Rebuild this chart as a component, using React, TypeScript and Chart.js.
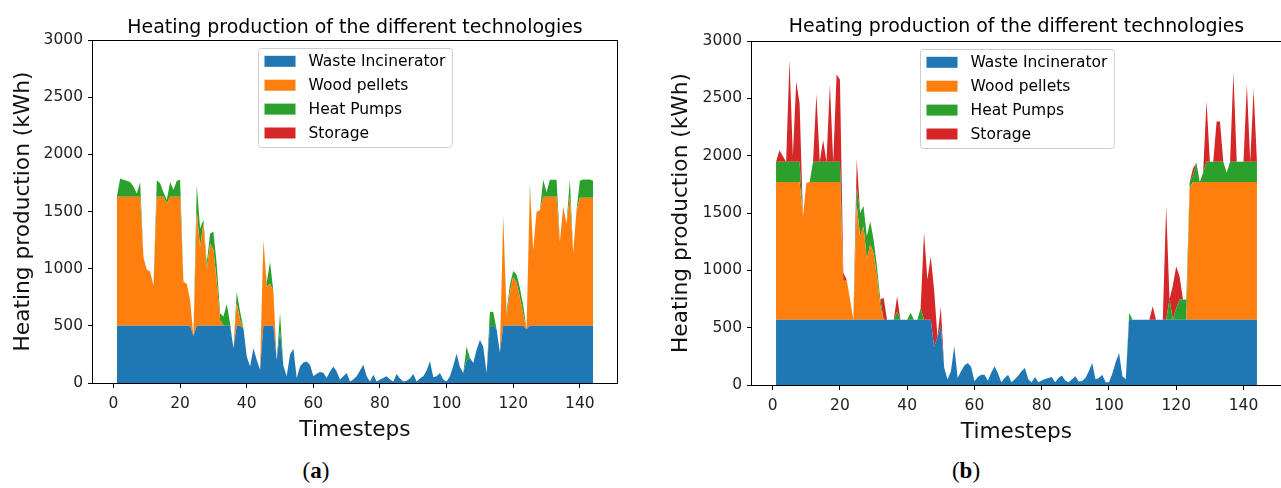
import React, { useEffect, useRef } from "react";
import { Chart, registerables } from "chart.js";

Chart.register(...registerables);

// ---------- data ----------
const timesteps: number[] = Array.from({ length: 144 }, (_, i) => i + 1);
const xTickValues = [0, 20, 40, 60, 80, 100, 120, 140];
const yTickValues = [0, 500, 1000, 1500, 2000, 2500, 3000];
const seriesNames = ["Waste Incinerator", "Wood pellets", "Heat Pumps", "Storage"];
const seriesColors = ["#1f77b4", "#ff7f0e", "#2ca02c", "#d62728"];
const chartTitle = "Heating production of the different technologies";
const xAxisLabel = "Timesteps";
const yAxisLabel = "Heating production (kWh)";

// (a) left chart
const aWaste = [
  500, 500, 500, 500, 500, 500, 500, 500, 500, 500,
  500, 500, 500, 500, 500, 500, 500, 500, 500, 500,
  500, 500, 500, 410, 500, 500, 500, 500, 500, 500,
  500, 500, 500, 500, 500, 305, 500, 500, 480, 232,
  145, 305, 203, 116, 500, 500, 500, 500, 200, 450,
  150, 58, 250, 300, 43, 145, 180, 188, 160, 58,
  80, 96, 90, 43, 100, 145, 100, 29, 60, 87,
  14, 30, 58, 110, 160, 58, 14, 72, 14, 30,
  43, 58, 30, 14, 78, 40, 14, 20, 40, 78,
  14, 40, 58, 110, 190, 50, 60, 87, 30, 14,
  60, 150, 255, 140, 87, 200, 218, 174, 290, 377,
  320, 87, 494, 500, 470, 267, 500, 500, 500, 500,
  500, 500, 500, 470, 500, 500, 500, 500, 500, 500,
  500, 500, 500, 500, 500, 500, 500, 500, 500, 500,
  500, 500, 500, 500,
];
const aWood = [
  1128, 1128, 1128, 1128, 1128, 1128, 1128, 1128, 600, 490,
  475, 350, 1128, 1128, 1128, 1070, 1128, 1128, 1128, 1128,
  387, 366, 227, 0, 1000, 692, 896, 488, 721, 663,
  385, 52, 0, 0, 0, 0, 197, 52, 0, 0,
  0, 0, 0, 0, 750, 340, 370, 300, 0, 0,
  0, 0, 0, 0, 0, 0, 0, 0, 0, 0,
  0, 0, 0, 0, 0, 0, 0, 0, 0, 0,
  0, 0, 0, 0, 0, 0, 0, 0, 0, 0,
  0, 0, 0, 0, 0, 0, 0, 0, 0, 0,
  0, 0, 0, 0, 0, 0, 0, 0, 0, 0,
  0, 0, 0, 0, 0, 0, 0, 0, 0, 0,
  0, 0, 0, 0, 0, 0, 968, 80, 300, 430,
  380, 250, 100, 0, 1200, 663, 997, 1010, 1128, 1128,
  1128, 1128, 1128, 736, 1041, 896, 1128, 634, 1012, 1120,
  1120, 1120, 1120, 1120,
];
const aHeat = [
  0, 160, 150, 140, 130, 90, 30, 130, 0, 0,
  0, 0, 145, 120, 40, 30, 130, 60, 140, 150,
  0, 0, 0, 0, 230, 160, 29, 59, 87, 160,
  150, 58, 81, 192, 23, 0, 100, 73, 0, 0,
  0, 0, 0, 0, 0, 40, 190, 0, 0, 160,
  0, 0, 0, 0, 0, 0, 0, 0, 0, 0,
  0, 0, 0, 0, 0, 0, 0, 0, 0, 0,
  0, 0, 0, 0, 0, 0, 0, 0, 0, 0,
  0, 0, 0, 0, 0, 0, 0, 0, 0, 0,
  0, 0, 0, 0, 0, 0, 0, 0, 0, 0,
  0, 0, 0, 0, 0, 120, 0, 0, 0, 0,
  0, 0, 130, 120, 0, 0, 0, 40, 60, 50,
  70, 80, 80, 0, 40, 0, 0, 0, 150, 40,
  150, 150, 150, 0, 0, 0, 150, 0, 0, 150,
  160, 160, 160, 150,
];
const aStorage = [
  0, 0, 0, 0, 0, 0, 0, 0, 0, 0,
  0, 0, 0, 0, 0, 0, 0, 0, 0, 0,
  0, 0, 0, 0, 0, 0, 0, 0, 0, 0,
  0, 0, 0, 0, 0, 0, 0, 0, 0, 0,
  0, 0, 0, 0, 0, 0, 0, 0, 0, 0,
  0, 0, 0, 0, 0, 0, 0, 0, 0, 0,
  0, 0, 0, 0, 0, 0, 0, 0, 0, 0,
  0, 0, 0, 0, 0, 0, 0, 0, 0, 0,
  0, 0, 0, 0, 0, 0, 0, 0, 0, 0,
  0, 0, 0, 0, 0, 0, 0, 0, 0, 0,
  0, 0, 0, 0, 0, 0, 0, 0, 0, 0,
  0, 0, 0, 0, 0, 0, 0, 0, 0, 0,
  0, 0, 0, 0, 0, 0, 0, 0, 0, 0,
  0, 0, 0, 0, 0, 0, 0, 0, 0, 0,
  0, 0, 0, 0,
];

// (b) right chart
const bWaste = [
  570, 570, 570, 570, 570, 570, 570, 570, 570, 570,
  570, 570, 570, 570, 570, 570, 570, 570, 570, 570,
  570, 570, 570, 570, 570, 570, 570, 570, 570, 570,
  570, 570, 570, 570, 570, 570, 570, 570, 570, 570,
  570, 570, 570, 570, 570, 570, 570, 330, 420, 510,
  150, 47, 120, 338, 61, 120, 170, 192, 160, 32,
  70, 90, 90, 38, 110, 163, 100, 24, 60, 90,
  24, 50, 80, 120, 149, 50, 24, 70, 24, 40,
  53, 60, 70, 24, 60, 82, 40, 24, 50, 76,
  30, 35, 60, 120, 192, 50, 60, 90, 24, 24,
  100, 200, 280, 76, 50, 570, 570, 570, 570, 570,
  570, 570, 570, 570, 570, 570, 570, 570, 570, 570,
  570, 570, 570, 570, 570, 570, 570, 570, 570, 570,
  570, 570, 570, 570, 570, 570, 570, 570, 570, 570,
  570, 570, 570, 570,
];
const bWood = [
  1200, 1200, 1200, 1200, 1200, 1200, 1200, 1200, 900, 1190,
  1200, 1200, 1200, 1200, 1200, 1200, 1200, 1200, 1200, 1200,
  330, 350, 175, 0, 1000, 728, 815, 524, 655, 582,
  379, 117, 0, 0, 0, 0, 0, 0, 0, 0,
  0, 0, 0, 0, 0, 0, 0, 0, 0, 0,
  0, 0, 0, 0, 0, 0, 0, 0, 0, 0,
  0, 0, 0, 0, 0, 0, 0, 0, 0, 0,
  0, 0, 0, 0, 0, 0, 0, 0, 0, 0,
  0, 0, 0, 0, 0, 0, 0, 0, 0, 0,
  0, 0, 0, 0, 0, 0, 0, 0, 0, 0,
  0, 0, 0, 0, 0, 0, 0, 0, 0, 0,
  0, 0, 0, 0, 0, 0, 0, 0, 0, 0,
  0, 0, 0, 1150, 1200, 1200, 1200, 1200, 1200, 1200,
  1200, 1200, 1200, 1200, 1200, 1200, 1200, 1200, 1200, 1200,
  1200, 1200, 1200, 1200,
];
const bHeat = [
  177, 177, 177, 177, 177, 177, 177, 177, 0, 0,
  0, 177, 177, 177, 177, 177, 177, 177, 177, 177,
  0, 0, 0, 0, 150, 203, 175, 204, 204, 117,
  87, 58, 0, 0, 0, 0, 70, 0, 0, 0,
  60, 0, 0, 100, 0, 0, 0, 0, 0, 0,
  0, 0, 0, 0, 0, 0, 0, 0, 0, 0,
  0, 0, 0, 0, 0, 0, 0, 0, 0, 0,
  0, 0, 0, 0, 0, 0, 0, 0, 0, 0,
  0, 0, 0, 0, 0, 0, 0, 0, 0, 0,
  0, 0, 0, 0, 0, 0, 0, 0, 0, 0,
  0, 0, 0, 0, 0, 60, 0, 0, 0, 0,
  0, 0, 0, 0, 0, 0, 0, 175, 0, 100,
  175, 175, 175, 50, 60, 168, 0, 80, 177, 177,
  177, 177, 177, 177, 80, 177, 177, 177, 177, 177,
  177, 177, 177, 177,
];
const bStorage = [
  0, 100, 50, 0, 890, 50, 700, 510, 0, 0,
  0, 0, 590, 0, 190, 0, 675, 0, 760, 718,
  80, 0, 0, 0, 250, 0, 0, 0, 0, 0,
  0, 0, 190, 0, 0, 0, 134, 0, 0, 0,
  0, 0, 0, 0, 757, 350, 550, 500, 0, 170,
  0, 0, 0, 0, 0, 0, 0, 0, 0, 0,
  0, 0, 0, 0, 0, 0, 0, 0, 0, 0,
  0, 0, 0, 0, 0, 0, 0, 0, 0, 0,
  0, 0, 0, 0, 0, 0, 0, 0, 0, 0,
  0, 0, 0, 0, 0, 0, 0, 0, 0, 0,
  0, 0, 0, 0, 0, 0, 0, 0, 0, 0,
  0, 0, 117, 0, 0, 0, 990, 0, 300, 366,
  200, 0, 0, 0, 60, 0, 0, 0, 530, 0,
  0, 350, 350, 0, 0, 0, 776, 0, 0, 0,
  674, 0, 630, 0,
];

// ---------- layout ----------
const LEFT_CFG = {
  left: 0, width: 640, height: 450,
  yAxisWidth: 93, xAxisHeight: 67, padTop: 40, padRight: 23,
  yTitlePad: 10, xTitlePad: 7, titleBaseline: 33,
};
const RIGHT_CFG = {
  left: 640, width: 642, height: 450,
  yAxisWidth: 112, xAxisHeight: 65, padTop: 41, padRight: 1,
  yTitlePad: 28, xTitlePad: 5, titleBaseline: 32,
};

const FONT = '"DejaVu Sans", "Noto Sans", sans-serif';

const decorPlugin = {
  id: "decor",
  afterDraw(chart: any, _args: any, opts: any) {
    const { ctx, chartArea: a } = chart;
    ctx.save();
    // axes frame
    ctx.strokeStyle = "#000";
    ctx.lineWidth = 1;
    ctx.strokeRect(Math.round(a.left) - 0.5, Math.round(a.top) + 0.5, Math.round(a.right - a.left) + 1, Math.round(a.bottom - a.top));
    const cx = (a.left + a.right) / 2;
    // title
    ctx.fillStyle = "#000";
    ctx.font = `18.9px ${FONT}`;
    ctx.textAlign = "center";
    ctx.textBaseline = "alphabetic";
    ctx.fillText(chartTitle, cx, opts.titleBaseline);
    // legend
    const fs = 15.5;
    ctx.font = `${fs}px ${FONT}`;
    const maxW = Math.max(...seriesNames.map((n) => ctx.measureText(n).width));
    const w = 6 + 31 + 13 + maxW + 7;
    const h = 99;
    const bx = Math.round(cx - w / 2) + 0.5;
    const by = Math.round(a.top + 8) + 0.5;
    const r = 3;
    ctx.beginPath();
    ctx.moveTo(bx + r, by);
    ctx.lineTo(bx + w - r, by);
    ctx.arcTo(bx + w, by, bx + w, by + r, r);
    ctx.lineTo(bx + w, by + h - r);
    ctx.arcTo(bx + w, by + h, bx + w - r, by + h, r);
    ctx.lineTo(bx + r, by + h);
    ctx.arcTo(bx, by + h, bx, by + h - r, r);
    ctx.lineTo(bx, by + r);
    ctx.arcTo(bx, by, bx + r, by, r);
    ctx.closePath();
    ctx.fillStyle = "rgba(255,255,255,0.8)";
    ctx.fill();
    ctx.strokeStyle = "#cccccc";
    ctx.stroke();
    ctx.textAlign = "left";
    ctx.textBaseline = "middle";
    seriesNames.forEach((name, i) => {
      const ry = by + 12.8 + i * 23.9;
      ctx.fillStyle = seriesColors[i];
      ctx.fillRect(bx + 6, ry - 5.5, 31, 11);
      ctx.fillStyle = "#000";
      ctx.fillText(name, bx + 50, ry + 1);
    });
    ctx.restore();
  },
};

function StackChart({ series, cfg }: { series: number[][]; cfg: typeof LEFT_CFG }) {
  const ref = useRef<HTMLCanvasElement>(null);
  useEffect(() => {
    if (!ref.current) return;
    const datasets = series.map((vals, k) => ({
      label: seriesNames[k],
      data: timesteps.map((t, i) => ({ x: t, y: vals[i] })),
      backgroundColor: seriesColors[k],
      borderColor: "rgba(0,0,0,0)",
      borderWidth: 0,
      pointRadius: 0,
      pointHoverRadius: 0,
      fill: k === 0 ? "origin" : "-1",
      tension: 0,
      stack: "heat",
    }));
    const tickFont = { family: FONT, size: 15.5 };
    const labelFont = { family: FONT, size: 21.7 };
    const chart = new Chart(ref.current, {
      type: "line",
      data: { datasets } as any,
      options: {
        responsive: false,
        animation: false,
        devicePixelRatio: 1,
        events: [],
        layout: { padding: { left: 0, right: cfg.padRight, top: cfg.padTop, bottom: 0 } },
        plugins: {
          legend: { display: false },
          title: { display: false },
          tooltip: { enabled: false },
          decor: { titleBaseline: cfg.titleBaseline },
        },
        scales: {
          x: {
            type: "linear",
            min: -6.15,
            max: 151.15,
            afterBuildTicks: (s: any) => {
              s.ticks = xTickValues.map((v) => ({ value: v }));
            },
            afterFit: (s: any) => {
              s.height = cfg.xAxisHeight;
              s.paddingLeft = 0;
              s.paddingRight = 0;
            },
            grid: { drawOnChartArea: false, drawTicks: true, tickLength: 5, color: "#000", lineWidth: 1 },
            border: { display: false },
            ticks: {
              font: tickFont,
              color: "#222",
              padding: 7,
              maxRotation: 0,
              autoSkip: false,
              callback: (v: any) => String(v),
            },
            title: {
              display: true,
              text: xAxisLabel,
              font: labelFont,
              color: "#111",
              padding: { top: 0, bottom: cfg.xTitlePad },
            },
          },
          y: {
            type: "linear",
            stacked: true,
            min: 0,
            max: 3000,
            afterBuildTicks: (s: any) => {
              s.ticks = yTickValues.map((v) => ({ value: v }));
            },
            afterFit: (s: any) => {
              s.width = cfg.yAxisWidth;
              s.paddingTop = 0;
              s.paddingBottom = 0;
            },
            grid: { drawOnChartArea: false, drawTicks: true, tickLength: 5, color: "#000", lineWidth: 1 },
            border: { display: false },
            ticks: { font: tickFont, color: "#222", padding: 5, callback: (v: any) => String(v) },
            title: {
              display: true,
              text: yAxisLabel,
              font: labelFont,
              color: "#111",
              padding: { top: cfg.yTitlePad, bottom: 0 },
            },
          },
        },
      } as any,
      plugins: [decorPlugin as any],
    });
    return () => chart.destroy();
  }, [series, cfg]);
  return (
    <canvas
      ref={ref}
      width={cfg.width}
      height={cfg.height}
      style={{ position: "absolute", left: cfg.left, top: 0, width: cfg.width, height: cfg.height }}
    />
  );
}

const leftSeries = [aWaste, aWood, aHeat, aStorage];
const rightSeries = [bWaste, bWood, bHeat, bStorage];

export default function App() {
  const captionStyle: React.CSSProperties = {
    position: "absolute",
    top: 458,
    width: 100,
    textAlign: "center",
    fontFamily: '"Liberation Serif", "Times New Roman", serif',
    fontSize: 23,
    lineHeight: "26px",
    color: "#000",
  };
  return (
    <div
      style={{
        position: "absolute",
        left: 0,
        top: 0,
        width: 1281,
        height: 488,
        background: "#fff",
        overflow: "hidden",
      }}
    >
      <StackChart series={leftSeries} cfg={LEFT_CFG} />
      <StackChart series={rightSeries} cfg={RIGHT_CFG} />
      <div style={{ ...captionStyle, left: 266 }}>
        (<b>a</b>)
      </div>
      <div style={{ ...captionStyle, left: 916 }}>
        (<b>b</b>)
      </div>
    </div>
  );
}
